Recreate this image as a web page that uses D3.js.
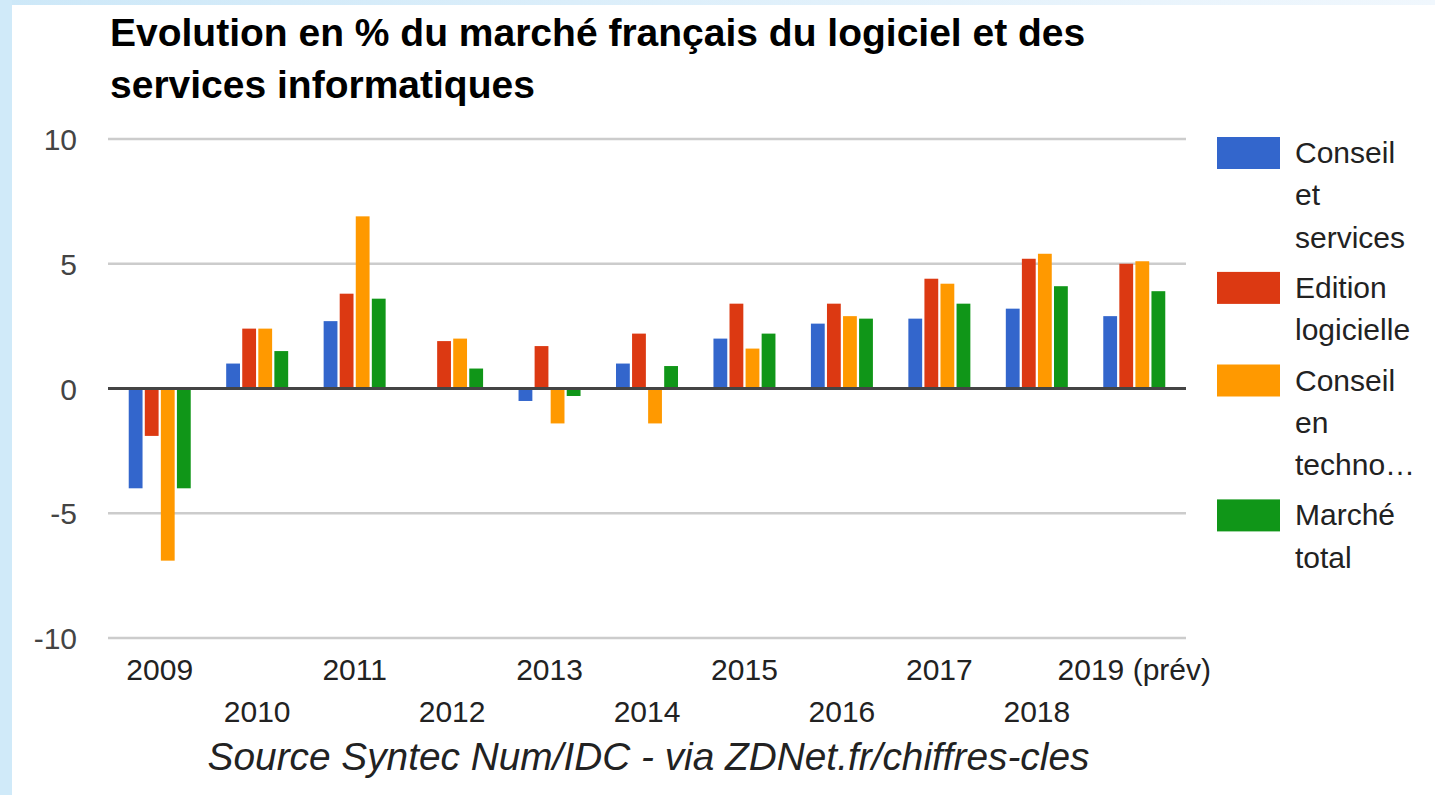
<!DOCTYPE html>
<html>
<head>
<meta charset="utf-8">
<script src="https://cdn.jsdelivr.net/npm/d3@7"></script>
<style>
  html, body { margin: 0; padding: 0; background: #fff; }
  svg { display: block; font-family: "Liberation Sans", Arial, sans-serif; }
</style>
</head>
<body>
<svg id="chart" width="1435" height="795"></svg>
<script>
// Years on the category axis
const years = ["2009", "2010", "2011", "2012", "2013", "2014", "2015", "2016", "2017", "2018", "2019 (prév)"];

// Series names and yearly change in %
const seriesNames = ["Conseil et services", "Edition logicielle", "Conseil en technologies", "Marché total"];
const conseilServices   = [-4.0, 1.0, 2.7, 0.0, -0.5, 1.0, 2.0, 2.6, 2.8, 3.2, 2.9];
const editionLogicielle = [-1.9, 2.4, 3.8, 1.9, 1.7, 2.2, 3.4, 3.4, 4.4, 5.2, 5.0];
const conseilTechno     = [-6.9, 2.4, 6.9, 2.0, -1.4, -1.4, 1.6, 2.9, 4.2, 5.4, 5.1];
const marcheTotal       = [-4.0, 1.5, 3.6, 0.8, -0.3, 0.9, 2.2, 2.8, 3.4, 4.1, 3.9];

// Legend labels, wrapped as displayed
const legendLines = [["Conseil", "et", "services"], ["Edition", "logicielle"], ["Conseil", "en", "techno…"], ["Marché", "total"]];

// Axis ticks
const yTicks = [-10, -5, 0, 5, 10];

const colors = ["#3366cc", "#dc3912", "#ff9900", "#109618"];
const seriesValues = [conseilServices, editionLogicielle, conseilTechno, marcheTotal];

const rows = years.map((yr, i) => ({
  year: yr,
  values: seriesNames.map((s, k) => ({ series: s, k, value: seriesValues[k][i] }))
}));

const svg = d3.select("#chart");

// page frame
const defs = svg.append("defs");
const grad = defs.append("linearGradient").attr("id", "topStrip").attr("x1", 0).attr("x2", 1);
grad.append("stop").attr("offset", 0).attr("stop-color", "#cde8f8");
grad.append("stop").attr("offset", 1).attr("stop-color", "#f0f7fd");
svg.append("rect").attr("x", 0).attr("y", 0).attr("width", 1435).attr("height", 5).attr("fill", "url(#topStrip)");
svg.append("rect").attr("x", 0).attr("y", 0).attr("width", 12).attr("height", 795).attr("fill", "#d0eaf9");

// scales
const gridLeft = 108, gridRight = 1186;
const x0 = d3.scaleBand().domain(years).range([111, 1183]).padding(0);
const x1 = d3.scaleBand().domain(d3.range(seriesNames.length)).range([0, 62]).paddingInner(0.14);
const groupOffset = (x0.bandwidth() - 62) / 2;
const y = d3.scaleLinear().domain([-10, 10]).range([638, 139]);

// title
const title = svg.append("text")
  .attr("font-size", 39).attr("font-weight", "bold").attr("fill", "#000");
title.append("tspan").attr("x", 110).attr("y", 46).text("Evolution en % du marché français du logiciel et des");
title.append("tspan").attr("x", 110).attr("y", 98).text("services informatiques");

// gridlines
svg.append("g").selectAll("line")
  .data(yTicks.filter(d => d !== 0))
  .join("line")
  .attr("x1", gridLeft).attr("x2", gridRight)
  .attr("y1", d => y(d)).attr("y2", d => y(d))
  .attr("stroke", "#cccccc").attr("stroke-width", 2.5);

// y axis labels (plain hyphen for negatives)
const yAxis = d3.axisLeft(y).tickValues(yTicks).tickFormat(d => String(d)).tickSize(0).tickPadding(0);
const yG = svg.append("g").attr("transform", "translate(77,0)").call(yAxis);
yG.select(".domain").remove();
yG.selectAll("text")
  .attr("font-size", 30).attr("fill", "#444").attr("font-family", "Liberation Sans, Arial, sans-serif")
  .attr("dy", "0.35em");

// bars
svg.append("g").selectAll("g")
  .data(rows)
  .join("g")
  .attr("transform", d => `translate(${x0(d.year) + groupOffset},0)`)
  .selectAll("rect")
  .data(d => d.values)
  .join("rect")
  .attr("x", d => x1(d.k))
  .attr("width", x1.bandwidth())
  .attr("y", d => y(Math.max(0, d.value)))
  .attr("height", d => Math.abs(y(d.value) - y(0)))
  .attr("fill", d => colors[d.k]);

// zero baseline
svg.append("line")
  .attr("x1", gridLeft).attr("x2", gridRight)
  .attr("y1", y(0)).attr("y2", y(0))
  .attr("stroke", "#444").attr("stroke-width", 3);

// x axis labels, alternating on two rows
const xAxis = d3.axisBottom(x0).tickSize(0).tickPadding(0);
const xG = svg.append("g").call(xAxis);
xG.select(".domain").remove();
xG.selectAll("text")
  .attr("font-size", 30).attr("fill", "#222").attr("font-family", "Liberation Sans, Arial, sans-serif")
  .attr("dy", null)
  .attr("y", (d, i) => i % 2 === 0 ? 680 : 722);

// axis title / source
svg.append("text")
  .attr("x", (205 + 1092) / 2).attr("y", 770)
  .attr("text-anchor", "middle")
  .attr("font-size", 38.8).attr("font-style", "italic").attr("fill", "#222")
  .text("Source Syntec Num/IDC - via ZDNet.fr/chiffres-cles");

// legend
const lineH = 42.3, entryGap = 8;
let ly = 137;
const legend = svg.append("g");
legendLines.forEach((lines, k) => {
  legend.append("rect")
    .attr("x", 1217).attr("y", ly).attr("width", 63).attr("height", 32)
    .attr("fill", colors[k]);
  const t = legend.append("text").attr("font-size", 30).attr("fill", "#222");
  lines.forEach((ln, j) => {
    t.append("tspan").attr("x", 1295).attr("y", ly + 26 + j * lineH).text(ln);
  });
  ly += lines.length * lineH + entryGap;
});
</script>
</body>
</html>
